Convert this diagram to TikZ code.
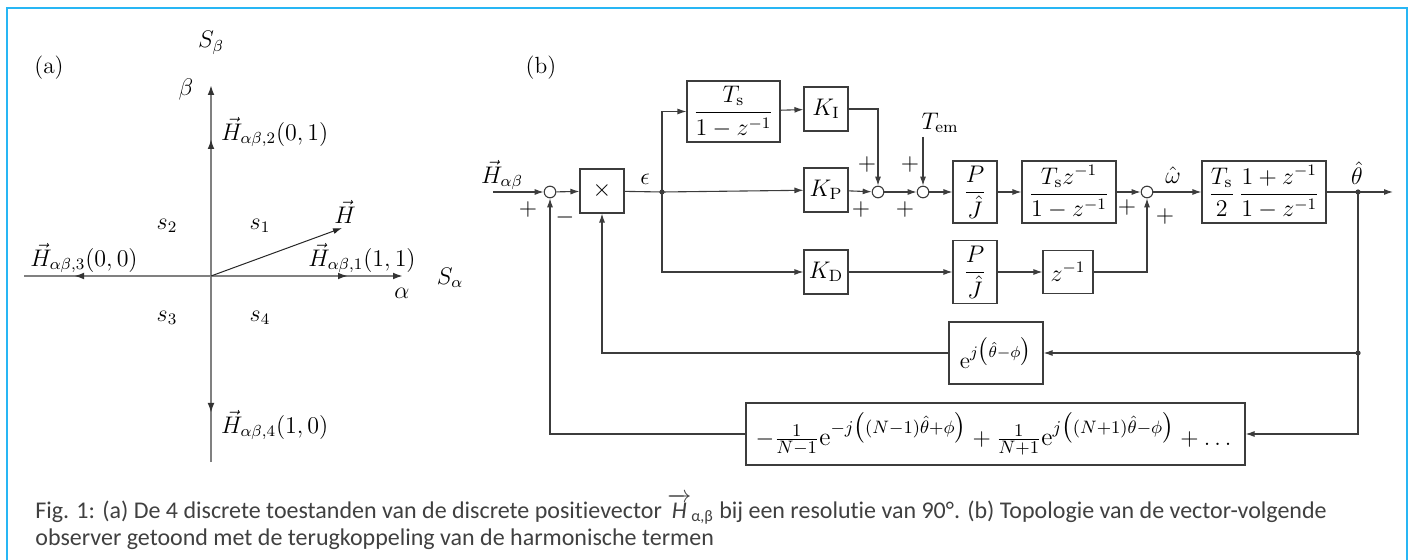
\documentclass[tikz,border=0pt]{standalone}
\usepackage{amsmath, amssymb}
\usepackage{fontspec}
\newfontfamily\capfont[Ligatures=NoCommon]{Carlito}
\usepackage{tikz}
\usetikzlibrary{
  calc,%
  arrows.meta,
  positioning
}
\definecolor{framecol}{RGB}{40,182,244}
\definecolor{linecol}{RGB}{60,60,60}
\tikzset{>={Latex[length=4.5pt,width=3pt]}}
\tikzset{font=\fontsize{11.7}{14}\selectfont}
\tikzset{
  blk/.style={draw=linecol, line width=0.55pt, inner sep=0pt, minimum width=22pt, minimum height=22pt},
  sumnode/.style={draw=linecol, line width=0.55pt, circle, inner sep=0pt, minimum size=5.8pt},
  sig/.style={draw=linecol, line width=0.55pt, ->},
  wire/.style={draw=linecol, line width=0.55pt},
  jdot/.style={fill=linecol, circle, inner sep=0pt, minimum size=2.6pt},
  axis/.style={draw=black!50, line width=0.9pt, -{Latex[length=5pt,width=3.4pt,black!80]}},
  capline/.style={anchor=base west, inner sep=0pt, text=black!75,
    font=\capfont\fontsize{12}{14}\selectfont}
}

\begin{document}
\begin{tikzpicture}[x=0.5pt, y=-0.5pt]
  \useasboundingbox (0,0) rectangle (1411,560);
  \draw[framecol, line width=1.2pt] (7,560) -- (7,8) -- (1407,8) -- (1407,560);

  % (a) the four discrete states
  \node (lbla) at (49,68) {(a)};
  \coordinate (O) at (211,276);
  \coordinate (axL) at (24,276);
  \coordinate (axR) at (403,276);
  \coordinate (axB) at (211,462);
  \coordinate (axT) at (211,85);
  \coordinate (v1) at (348,276);
  \coordinate (v2) at (211,139);
  \coordinate (v3) at (74,276);
  \coordinate (v4) at (211,413);
  \coordinate (vH) at (342,228);
  \draw[axis] (axL) -- (axR);
  \draw[axis] (axB) -- (axT);
  \foreach \v in {v1,v2,v3,v4}
    \draw[axis] (O) -- (\v);
  \draw[->, black!85, line width=0.5pt] (O) -- (vH);
  \node (Sb) at (211,43) {$S_\beta$};
  \node (lbeta) at (186,90) {$\beta$};
  \node[anchor=west] (H2) at (214,132) {$\vec{H}_{\alpha\beta,2}(0,1)$};
  \node[anchor=west] (H4) at (214,425) {$\vec{H}_{\alpha\beta,4}(1,0)$};
  \node (H3) at (84,258) {$\vec{H}_{\alpha\beta,3}(0,0)$};
  \node (H1) at (362,258) {$\vec{H}_{\alpha\beta,1}(1,1)$};
  \node (Sa) at (450,278) {$S_\alpha$};
  \node (lalpha) at (402,293) {$\alpha$};
  \node (Hv) at (345,212) {$\vec{H}$};
  \node (q1) at (260,226) {$s_1$};
  \node (q2) at (167,226) {$s_2$};
  \node (q3) at (167,318) {$s_3$};
  \node (q4) at (260,318) {$s_4$};

  % (b) vector tracking observer
  \node (lblb) at (541,68) {(b)};
  \coordinate (in) at (493,192);
  \node (Hin) at (502,175) {$\vec{H}_{\alpha\beta}$};
  \node[sumnode] (s1) at (550,192) {};
  \node[blk] (mul) at (602,191) {$\times$};
  \coordinate (j1) at (662,192);
  \node (eps) at (645,179) {$\epsilon$};
  \node[blk, minimum width=46.5pt, minimum height=30.5pt] (integ) at (733.5,111.5) {$\dfrac{T_\mathrm{s}}{1-z^{-1}}$};
  \node[blk] (KI) at (826,109) {$K_\mathrm{I}$};
  \node[blk] (KP) at (826,190) {$K_\mathrm{P}$};
  \node[blk] (KD) at (826,272) {$K_\mathrm{D}$};
  \node[sumnode] (s2) at (878,192) {};
  \node[sumnode] (s3) at (923,192) {};
  \node (Tem) at (940,123) {$T_\mathrm{em}$};
  \coordinate (Tin) at (923,137);
  \node[blk, minimum height=31pt] (PJa) at (975,192) {$\dfrac{P}{\hat{J}}$};
  \node[blk, minimum width=47pt, minimum height=31pt] (acc) at (1069,192) {$\dfrac{T_\mathrm{s}z^{-1}}{1-z^{-1}}$};
  \node[sumnode] (s4) at (1147,192) {};
  \node (om) at (1173,175) {$\hat{\omega}$};
  \node[blk, minimum width=62pt, minimum height=31pt] (tust) at (1264,192) {$\dfrac{T_\mathrm{s}}{2}\,\dfrac{1+z^{-1}}{1-z^{-1}}$};
  \node (th) at (1357,173) {$\hat{\theta}$};
  \coordinate (j2) at (1358,192);
  \coordinate (out) at (1393,192);
  \node[blk, minimum height=31.5pt] (PJb) at (975,272) {$\dfrac{P}{\hat{J}}$};
  \node[blk, minimum width=25pt, minimum height=21.5pt] (zd) at (1068,272) {$z^{-1}$};
  \node[blk, minimum width=47pt, minimum height=31pt] (rot) at (996,353) {$\mathrm{e}^{j\bigl(\hat{\theta}-\phi\bigr)}$};
  \coordinate (j3) at (1358,353);
  \node[blk, minimum width=249.5pt, minimum height=31pt, font=\fontsize{12.8}{15}\selectfont] (harm) at (995.5,434) {$-\tfrac{1}{N-1}\mathrm{e}^{-j\bigl((N-1)\hat{\theta}+\phi\bigr)}+\tfrac{1}{N+1}\mathrm{e}^{j\bigl((N+1)\hat{\theta}-\phi\bigr)}+\dots$};

  % forward path
  \draw[sig] (in) -- (s1);
  \draw[sig] (s1) -- (mul);
  \draw[wire] (mul) -- (j1);
  \draw[sig] (j1) |- (integ);
  \draw[sig] (integ) -- (KI);
  \draw[sig] (KI.east) -| (s2);
  \draw[sig] (j1) -- (KP);
  \draw[sig] (j1) |- (KD);
  \draw[sig] (KP) -- (s2);
  \draw[sig] (s2) -- (s3);
  \draw[sig] (Tin) -- (s3);
  \draw[sig] (s3) -- (PJa);
  \draw[sig] (PJa) -- (acc);
  \draw[sig] (acc) -- (s4);
  \draw[sig] (s4) -- (tust);
  \draw[sig] (tust) -- (out);
  \draw[sig] (KD) -- (PJb);
  \draw[sig] (PJb) -- (zd);
  \draw[sig] (zd) -| (s4);
  % feedback
  \draw[wire] (j2) -- (j3);
  \draw[sig] (j3) -- (rot);
  \draw[sig] (rot.west) -| (mul.south);
  \draw[sig] (j3) |- (harm);
  \draw[sig] (harm.west) -| (s1.south);
  \node[jdot] at (j1) {};
  \node[jdot] at (j2) {};
  \node[jdot] at (j3) {};
  % signs
  \node (p1) at (528,210) {$+$};
  \node (m1) at (565,218) {$-$};
  \node (p2a) at (867,165) {$+$};
  \node (p2b) at (861,210) {$+$};
  \node (p3a) at (910,165) {$+$};
  \node (p3b) at (905,210) {$+$};
  \node (p4a) at (1127,208) {$+$};
  \node (p4b) at (1165,217) {$+$};

  % caption
  \node[capline] (capA) at (35,518) {Fig. 1: (a) De 4 discrete toestanden van de discrete positievector $\overrightarrow{\text{\itshape H}}_{\text{α,β}}$ bij een resolutie van 90°. (b) Topologie van de vector-volgende};
  \node[capline] (capB) at (35,545) {observer getoond met de terugkoppeling van de harmonische termen};
\end{tikzpicture}
\end{document}
